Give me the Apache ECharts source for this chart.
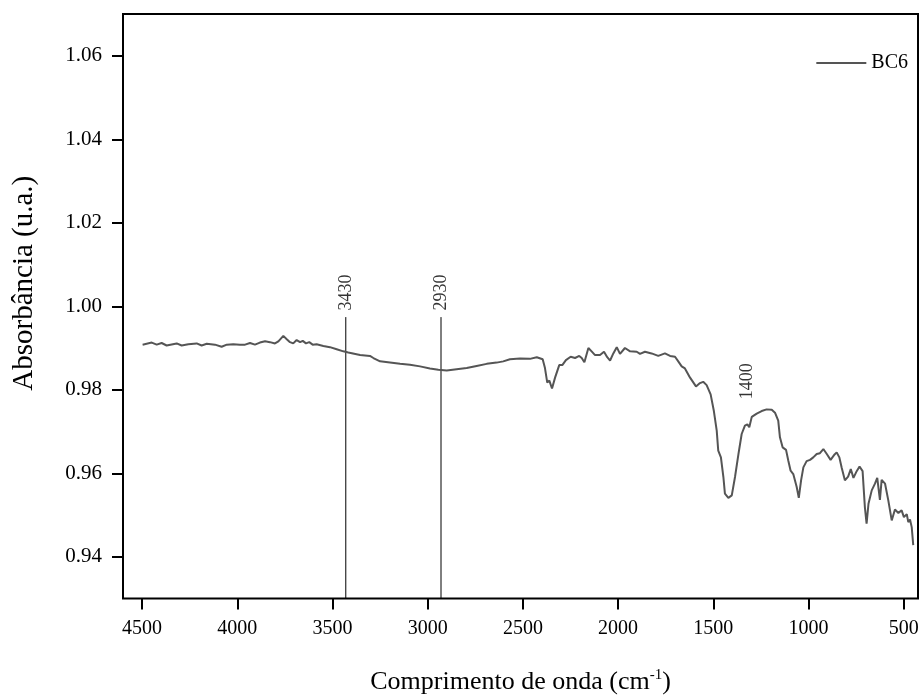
<!DOCTYPE html>
<html>
<head>
<meta charset="utf-8">
<script src="https://cdn.jsdelivr.net/npm/echarts@6/dist/echarts.min.js"></script>
<style>
  html, body { margin: 0; padding: 0; background: #fff; }
  #chart { width: 924px; height: 700px; }
</style>
</head>
<body>
<div id="chart"></div>
<script>
// FTIR spectrum of sample BC6
const wavenumber = [
  4497, 4449, 4423, 4397, 4371, 4318, 4292, 4257, 4213, 4187, 4160, 4117, 4082, 4055, 4021,
  3986, 3959, 3933, 3907, 3881, 3854, 3828, 3802, 3784, 3758, 3740, 3723, 3706, 3688, 3670,
  3656, 3639, 3622, 3604, 3583, 3548, 3513, 3478, 3443, 3417, 3408, 3355, 3303, 3285, 3250,
  3198, 3145, 3093, 3040, 2988, 2944, 2900, 2848, 2795, 2743, 2690, 2638, 2603, 2568, 2515,
  2463, 2427, 2396, 2384, 2372, 2361, 2347, 2331, 2309, 2293, 2274, 2249, 2226, 2204, 2191,
  2177, 2156, 2139, 2121, 2095, 2074, 2057, 2042, 2025, 2007, 1990, 1964, 1937, 1902, 1885,
  1859, 1824, 1789, 1754, 1727, 1701, 1684, 1666, 1649, 1622, 1591, 1570, 1553, 1535, 1514,
  1497, 1482, 1474, 1460, 1447, 1439, 1421, 1403, 1386, 1368, 1351, 1334, 1321, 1311, 1298,
  1272, 1246, 1220, 1193, 1176, 1159, 1150, 1136, 1118, 1106, 1094, 1080, 1062, 1051, 1039,
  1027, 1010, 992, 975, 966, 957, 940, 922, 904, 884, 863, 852, 838, 826, 809,
  792, 778, 764, 747, 732, 716, 704, 695, 685, 668, 651, 639, 625, 616, 598,
  581, 563, 546, 528, 511, 499, 484, 476, 467, 458, 450
];
const absorbance = [
  0.9908, 0.9913, 0.9908, 0.9912, 0.9906, 0.9911, 0.9906, 0.9909, 0.9911, 0.9906, 0.9910, 0.9908, 0.9903, 0.9908, 0.9909,
  0.9908, 0.9908, 0.9912, 0.9908, 0.9913, 0.9916, 0.9914, 0.9911, 0.9916, 0.9929, 0.9921, 0.9914, 0.9911, 0.9919, 0.9914,
  0.9917, 0.9911, 0.9914, 0.9908, 0.9909, 0.9905, 0.9902, 0.9897, 0.9892, 0.9889, 0.9887, 0.9883, 0.9881, 0.9876, 0.9868,
  0.9865, 0.9862, 0.9860, 0.9856, 0.9851, 0.9848, 0.9846, 0.9849, 0.9852, 0.9857, 0.9862, 0.9865, 0.9868, 0.9873, 0.9875,
  0.9874, 0.9878, 0.9873, 0.9852, 0.9817, 0.9822, 0.9803, 0.9829, 0.9859, 0.9859, 0.9871, 0.9879, 0.9876, 0.9881, 0.9876,
  0.9866, 0.9900, 0.9892, 0.9883, 0.9883, 0.9891, 0.9878, 0.9870, 0.9887, 0.9902, 0.9886, 0.9900, 0.9892, 0.9891, 0.9886,
  0.9891, 0.9887, 0.9881, 0.9887, 0.9881, 0.9879, 0.9868, 0.9856, 0.9851, 0.9829, 0.9808, 0.9816, 0.9819, 0.9811, 0.9789,
  0.9749, 0.9702, 0.9654, 0.9638, 0.9591, 0.9551, 0.9541, 0.9547, 0.9591, 0.9646, 0.9694, 0.9714, 0.9717, 0.9710, 0.9735,
  0.9743, 0.9749, 0.9753, 0.9752, 0.9745, 0.9726, 0.9686, 0.9662, 0.9656, 0.9630, 0.9606, 0.9598, 0.9567, 0.9541, 0.9583,
  0.9614, 0.9629, 0.9632, 0.9638, 0.9634, 0.9646, 0.9648, 0.9658, 0.9646, 0.9632, 0.9645, 0.9650, 0.9638, 0.9614, 0.9583,
  0.9592, 0.9610, 0.9589, 0.9605, 0.9616, 0.9605, 0.9519, 0.9479, 0.9527, 0.9559, 0.9575, 0.9589, 0.9536, 0.9584, 0.9575,
  0.9535, 0.9487, 0.9513, 0.9505, 0.9511, 0.9495, 0.9502, 0.9483, 0.9489, 0.9471, 0.9428
];

// Axis ticks
const xTicks = [4500, 4000, 3500, 3000, 2500, 2000, 1500, 1000, 500];
const yTicks = [0.94, 0.96, 0.98, 1.00, 1.02, 1.04, 1.06];

// Marked bands: vertical reference lines with their labels
const markedBands = [3430, 2930];
const markedLineTop = 0.9974;
// Band labelled above the curve without a reference line
const labelledBand = 1400;
const labelledBandLevel = 0.9777;

const X_MIN = 425, X_MAX = 4600, Y_MIN = 0.93, Y_MAX = 1.07;
const FONT = '"Liberation Serif", "Times New Roman", serif';

const spectrum = wavenumber.map((w, i) => [w, absorbance[i]]);

const rotatedLabel = {
  show: true,
  position: 'top',
  distance: 6,
  rotate: 90,
  align: 'left',
  verticalAlign: 'middle',
  fontFamily: FONT,
  fontSize: 18,
  color: '#000',
  formatter: p => String(p.value[0])
};

const series = [
  {
    name: 'BC6',
    type: 'line',
    data: spectrum,
    symbol: 'none',
    showSymbol: false,
    lineStyle: { color: '#555', width: 2 },
    itemStyle: { color: '#555' },
    z: 3
  }
];

markedBands.forEach(w => {
  series.push({
    name: 'band-' + w,
    type: 'line',
    data: [[w, Y_MIN], [w, markedLineTop]],
    symbol: 'none',
    silent: true,
    lineStyle: { color: '#000', width: 1 },
    z: 2
  });
});

series.push({
  name: 'band-labels',
  type: 'scatter',
  silent: true,
  symbolSize: 1,
  itemStyle: { color: 'rgba(0,0,0,0)' },
  data: markedBands.map(w => [w, markedLineTop]),
  label: rotatedLabel
});

// rotated frame: local y points to the right on screen
series.push({
  name: 'band-label-free',
  type: 'scatter',
  silent: true,
  symbolSize: 1,
  itemStyle: { color: 'rgba(0,0,0,0)' },
  data: [[labelledBand, labelledBandLevel]],
  label: Object.assign({}, rotatedLabel, { position: 'inside', offset: [0, 15] })
});

const chart = echarts.init(document.getElementById('chart'), null, { renderer: 'canvas' });
chart.setOption({
  animation: false,
  backgroundColor: '#fff',
  grid: {
    left: 123, right: 6, top: 14, bottom: 98,
    show: true,
    borderColor: '#000',
    borderWidth: 2,
    backgroundColor: 'transparent'
  },
  legend: {
    data: [{ name: 'BC6', icon: 'rect' }],
    right: 16,
    top: 53,
    padding: 0,
    itemWidth: 50,
    itemHeight: 2,
    itemStyle: { color: '#555' },
    textStyle: { fontFamily: FONT, fontSize: 20, color: '#000' }
  },
  xAxis: {
    type: 'value',
    inverse: true,
    min: X_MIN,
    max: X_MAX,
    axisLine: { show: false },
    splitLine: { show: false },
    axisTick: {
      show: true, length: 11, inside: false,
      customValues: xTicks,
      lineStyle: { color: '#000', width: 2 }
    },
    axisLabel: {
      customValues: xTicks,
      margin: 20,
      fontFamily: FONT, fontSize: 20, color: '#000',
      formatter: v => String(v)
    },
    name: '{t|Comprimento de onda (cm}{s|-1}{t|)}',
    nameLocation: 'middle',
    nameGap: 69,
    nameTextStyle: {
      rich: {
        t: { fontFamily: FONT, fontSize: 26, color: '#000' },
        s: { fontFamily: FONT, fontSize: 15, color: '#000', verticalAlign: 'top', padding: [0, 0, 14, 0] }
      }
    }
  },
  yAxis: {
    type: 'value',
    min: Y_MIN,
    max: Y_MAX,
    axisLine: { show: false },
    splitLine: { show: false },
    axisTick: {
      show: true, length: 11, inside: false,
      customValues: yTicks,
      lineStyle: { color: '#000', width: 2 }
    },
    axisLabel: {
      customValues: yTicks,
      margin: 21,
      fontFamily: FONT, fontSize: 21, color: '#000',
      formatter: v => v.toFixed(2)
    },
    name: 'Absorbância (u.a.)',
    nameLocation: 'middle',
    nameGap: 84,
    nameTextStyle: { fontFamily: FONT, fontSize: 29, color: '#000', padding: [0, 0, 0, 46] }
  },
  series: series
});
</script>
</body>
</html>
